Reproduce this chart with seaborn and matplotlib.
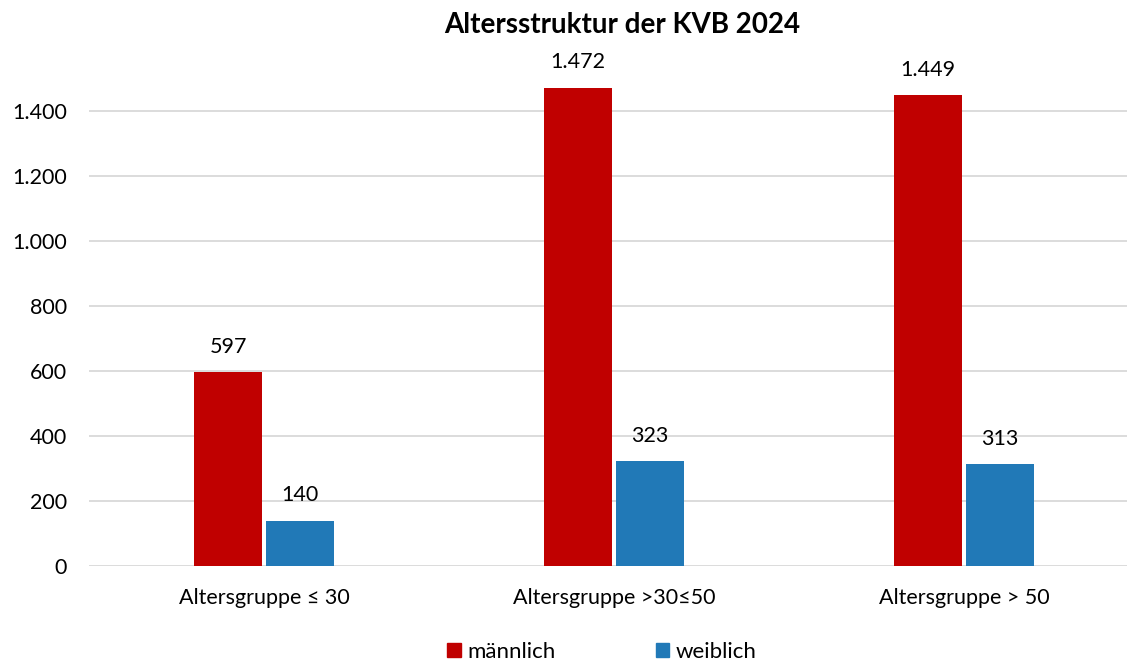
import matplotlib.pyplot as plt
import matplotlib.patches as mpatches
import seaborn as sns
import pandas as pd

# Daten
gruppen = ['Altersgruppe ≤ 30', 'Altersgruppe >30≤50', 'Altersgruppe > 50']
maennlich = [597, 1472, 1449]
weiblich = [140, 323, 313]
geschlechter = ['männlich', 'weiblich']
farben = ['#C00000', '#2179B7']
y_ticks = [0, 200, 400, 600, 800, 1000, 1200, 1400]

df = pd.DataFrame({
    'Gruppe': gruppen * 2,
    'Geschlecht': [geschlechter[0]] * 3 + [geschlechter[1]] * 3,
    'Anzahl': maennlich + weiblich,
})


def de_format(v):
    return f"{v:,}".replace(",", ".")


sns.set_style('white')
plt.rcParams['font.family'] = ['Lato', 'DejaVu Sans']
plt.rcParams['text.color'] = 'black'

W, H = 1127, 662
fig = plt.figure(figsize=(W / 100, H / 100), dpi=100)
# Achsen: links 89px, 0-Linie bei 566px, 1600 bei 46px
ax = fig.add_axes([89 / W, (H - 566) / H, 1050 / W, 520 / H])

sns.barplot(data=df, x='Gruppe', y='Anzahl', hue='Geschlecht',
            palette=farben, width=0.41, gap=0.06, saturation=1,
            linewidth=0, ax=ax, legend=False)

ax.set_xlim(-0.5, 2.5)
ax.set_ylim(0, 1600)
ax.set_yticks(y_ticks)
ax.set_yticklabels([de_format(t) for t in y_ticks])
ax.yaxis.grid(True, color='#D9D9D9', linewidth=1.3)
ax.set_axisbelow(True)
for s in ax.spines.values():
    s.set_visible(False)
ax.tick_params(axis='y', length=0, pad=16, labelsize=15.5, labelcolor='black')
ax.tick_params(axis='x', length=0, pad=16, labelsize=15.5, labelcolor='black')
ax.set_xlabel('')
ax.set_ylabel('')

for cont in ax.containers:
    ax.bar_label(cont, labels=[de_format(int(v)) for v in cont.datavalues],
                 padding=11, fontsize=15.5, color='black', clip_on=False)

fig.text(622 / W, 1 - 25 / H, 'Altersstruktur der KVB 2024', ha='center',
         va='center', fontsize=20, fontweight='bold', color='black')

handles = [mpatches.Patch(color=c, label=l) for c, l in zip(farben, geschlechter)]
fig.legend(handles=handles, loc='center', bbox_to_anchor=(602 / W, 10 / H),
           ncol=2, frameon=False, fontsize=16, handlelength=0.6,
           handleheight=0.6, handletextpad=0.3, columnspacing=4.5)

fig.savefig('out.png', dpi=100)
